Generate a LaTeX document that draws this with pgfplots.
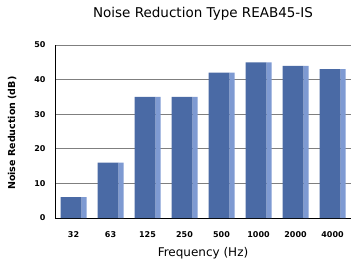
\documentclass[border=0pt]{standalone}
\usepackage{pgfplots}
\pgfplotsset{compat=1.18}
\usepackage{fontspec}
\setmainfont{DejaVu Sans}
\definecolor{barfront}{HTML}{4A6AA5}
\definecolor{barside}{HTML}{7E9AD2}
\definecolor{gridc}{HTML}{7F7F7F}
\begin{document}
\begin{tikzpicture}
\useasboundingbox (0pt,0pt) rectangle (352pt,259pt);
\begin{scope}
\clip (0pt,0pt) rectangle (352pt,259pt);
\begin{axis}[
  at={(55pt,41pt)}, anchor=south west,
  scale only axis, width=296pt, height=173pt,
  xmin=-0.5, xmax=7.5, ymin=0, ymax=50,
  xtick=data, xticklabels={32,63,125,250,500,1000,2000,4000},
  ytick={0,10,20,30,40,50},
  ymajorgrids, grid style={gridc, line width=0.8pt},
  axis x line*=bottom, axis y line*=left,
  axis line style={black, line width=1pt},
  major tick length=0pt,
  tick label style={font=\fontsize{8}{9}\selectfont\bfseries},
  /pgf/number format/assume math mode=true,
  xticklabel style={yshift=-10pt},
  yticklabel style={xshift=-6pt},
  ylabel={\bfseries Noise Reduction (dB)},
  ylabel style={font=\fontsize{9.5}{11}\selectfont, at={(axis description cs:-0.145,0.49)}, anchor=center},
  xlabel={Frequency (Hz)},
  xlabel style={font=\fontsize{12}{13}\selectfont, at={(axis description cs:0.5,0)}, anchor=center, yshift=-35pt},
  title={Noise Reduction Type REAB45-IS},
  title style={font=\fontsize{13.5}{16}\selectfont, at={(axis description cs:0.5,1)}, anchor=center, yshift=25pt},
  ybar, bar width=21pt,
  clip=false,
]
\addplot[fill=barfront, draw=none, bar shift=-2.5pt] coordinates {(0,6) (1,16) (2,35) (3,35) (4,42) (5,45) (6,44) (7,43)};
\addplot[fill=barside, draw=none, bar width=5pt, bar shift=10.5pt] coordinates {(0,6) (1,16) (2,35) (3,35) (4,42) (5,45) (6,44) (7,43)};
\end{axis}
\end{scope}
\end{tikzpicture}
\end{document}
